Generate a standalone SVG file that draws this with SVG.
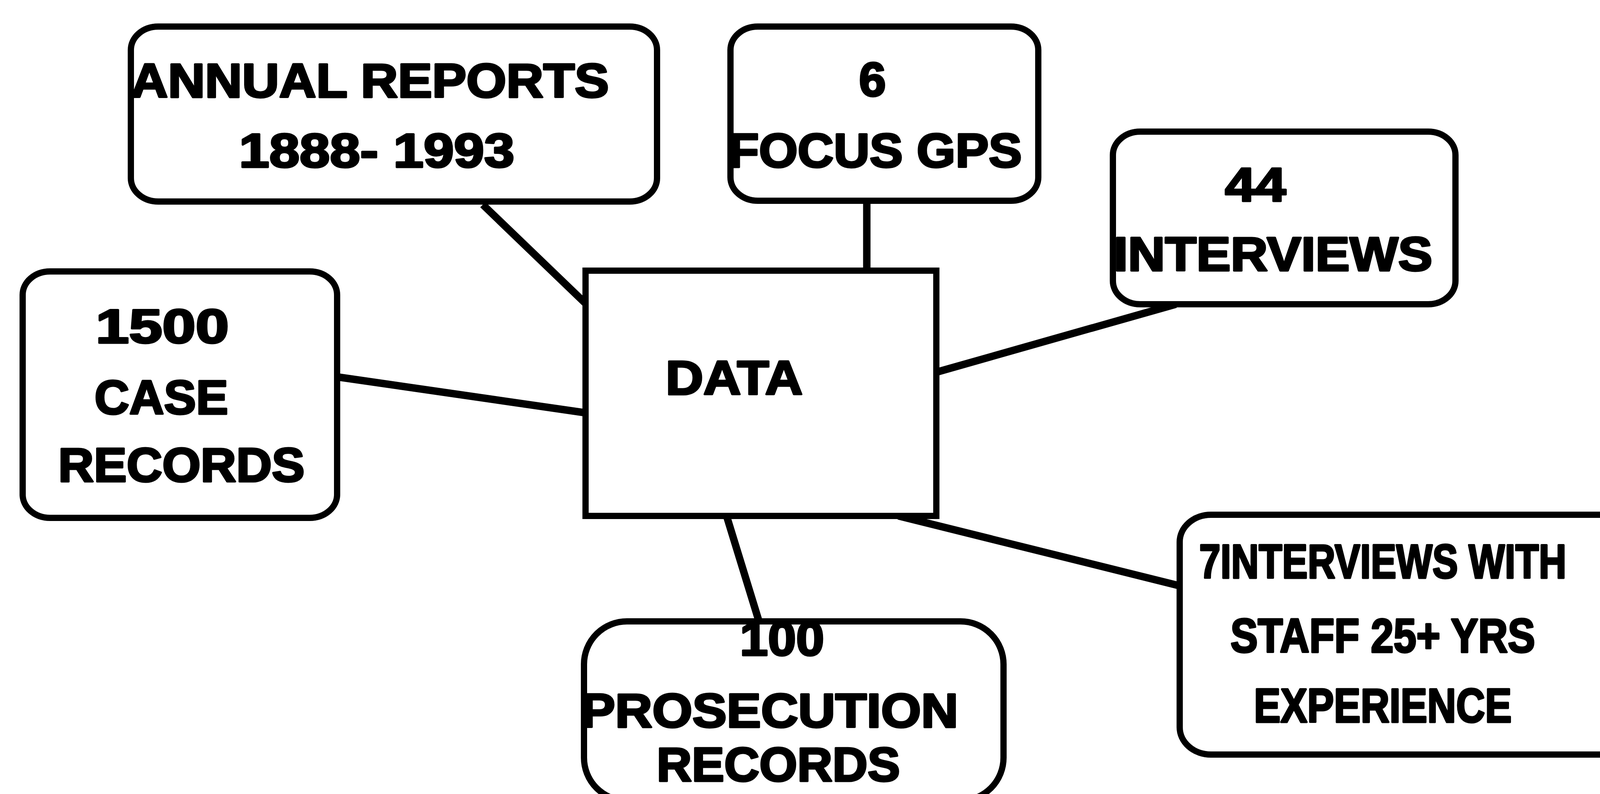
<svg xmlns="http://www.w3.org/2000/svg" width="4464" height="2033" viewBox="0 0 4464 2033">
<style>
.box{fill:#fff;stroke:#000;stroke-width:16}
.ln{stroke:#000;stroke-width:19;fill:none;stroke-linecap:butt}
text{font-family:"Liberation Sans",Arial,sans-serif;font-weight:bold;font-size:122px;fill:#000;stroke:#000;stroke-width:5;stroke-linejoin:round}
</style>
<rect width="4464" height="2033" fill="#fff"/>
<g id="connectors">
<line class="ln" x1="1236" y1="524" x2="1499" y2="777"/>
<line class="ln" x1="2219" y1="514" x2="2219" y2="693"/>
<line class="ln" x1="2397" y1="953" x2="3010" y2="779"/>
<line class="ln" x1="863" y1="965" x2="1499" y2="1057"/>
<line class="ln" x1="1860" y1="1321" x2="1943" y2="1591"/>
<line class="ln" x1="2300" y1="1321" x2="3020" y2="1500"/>
</g>
<g id="annual">
<rect class="box" x="335" y="68" width="1347" height="448" rx="70" ry="60"/>
<text x="335" y="249" textLength="1224" lengthAdjust="spacingAndGlyphs">ANNUAL REPORTS</text>
<text x="612" y="428" textLength="705" lengthAdjust="spacingAndGlyphs">1888- 1993</text>
</g>
<g id="focus">
<rect class="box" x="1870" y="68" width="788" height="446" rx="70" ry="60"/>
<text x="2199" y="246" textLength="69" lengthAdjust="spacingAndGlyphs">6</text>
<text x="1865" y="428" textLength="751" lengthAdjust="spacingAndGlyphs">FOCUS GPS</text>
</g>
<g id="interviews44">
<rect class="box" x="2849" y="337" width="877" height="442" rx="70" ry="60"/>
<text x="3136" y="515" textLength="156" lengthAdjust="spacingAndGlyphs">44</text>
<text x="2851" y="693" textLength="816" lengthAdjust="spacingAndGlyphs">INTERVIEWS</text>
</g>
<g id="case1500">
<rect class="box" x="58" y="695" width="805" height="631" rx="70" ry="60"/>
<text x="245" y="878" textLength="341" lengthAdjust="spacingAndGlyphs">1500</text>
<text x="242" y="1060" textLength="342" lengthAdjust="spacingAndGlyphs">CASE</text>
<text x="149" y="1233" textLength="631" lengthAdjust="spacingAndGlyphs">RECORDS</text>
</g>
<g id="data">
<rect class="box" x="1499" y="693" width="898" height="628"/>
<text x="1704" y="1010" textLength="351" lengthAdjust="spacingAndGlyphs">DATA</text>
</g>
<g id="prosecution">
<rect class="box" x="1495" y="1591" width="1074" height="459" rx="110" ry="110"/>
<text x="1894" y="1678" textLength="216" lengthAdjust="spacingAndGlyphs">100</text>
<text x="1487" y="1862" textLength="966" lengthAdjust="spacingAndGlyphs">PROSECUTION</text>
<text x="1681" y="2000" textLength="623" lengthAdjust="spacingAndGlyphs">RECORDS</text>
</g>
<g id="staff">
<rect class="box" x="3020" y="1318" width="1500" height="614" rx="80" ry="70"/>
<text x="3070" y="1480" font-size="100" textLength="940" lengthAdjust="spacingAndGlyphs">7INTERVIEWS WITH</text>
<text x="3150" y="1670" font-size="112" textLength="780" lengthAdjust="spacingAndGlyphs">STAFF 25+ YRS</text>
<text x="3210" y="1849" font-size="112" textLength="660" lengthAdjust="spacingAndGlyphs">EXPERIENCE</text>
</g>
</svg>
